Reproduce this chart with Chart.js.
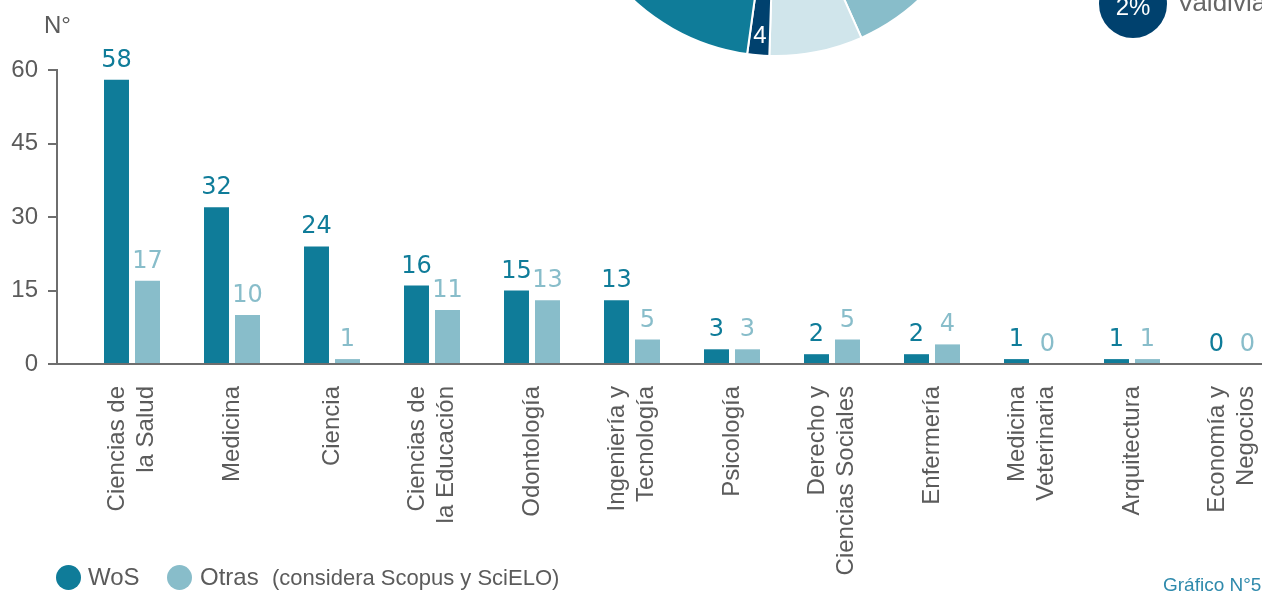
<!DOCTYPE html>
<html><head><meta charset="utf-8">
<script src="https://cdn.jsdelivr.net/npm/chart.js@4.4.1/dist/chart.umd.min.js"></script>
<style>
html,body{margin:0;padding:0;background:#fff;width:1262px;height:591px;overflow:hidden;position:relative;font-family:'Liberation Sans',Arial,sans-serif;}
#bar{position:absolute;left:0;top:0;}
#pie{position:absolute;left:556px;top:-374px;}
.t{position:absolute;white-space:nowrap;color:#5b5b5b;}
.dot{position:absolute;border-radius:50%;}
</style></head><body>
<canvas id="bar" width="1262" height="591"></canvas>
<canvas id="pie" width="440" height="440"></canvas>
<div class="t" style="left:44px;top:11px;font-size:24px;">N°</div>
<div class="dot" style="left:56px;top:565px;width:25px;height:25px;background:#0f7c99"></div>
<div class="t" style="left:88px;top:563px;font-size:24px;">WoS</div>
<div class="dot" style="left:167px;top:565px;width:25px;height:25px;background:#88bdca"></div>
<div class="t" style="left:200px;top:563px;font-size:24px;">Otras</div>
<div class="t" style="left:272px;top:565px;font-size:22px;">(considera Scopus y SciELO)</div>
<div class="t" style="left:1163px;top:574px;font-size:19px;color:#2f8aac;">Gráfico N°5</div>
<div class="dot" style="left:1099px;top:-30px;width:68px;height:68px;background:#00416e"></div>
<div class="t" style="left:1099px;top:-7px;width:68px;text-align:center;font-size:24px;color:#fff;">2%</div>
<div class="t" style="left:1177px;top:-13px;font-size:26px;color:#666;">Valdivia</div>
<script>
const categories = [
  ["Ciencias de","la Salud"], "Medicina", "Ciencia", ["Ciencias de","la Educación"],
  "Odontología", ["Ingeniería y","Tecnología"], "Psicología", ["Derecho y","Ciencias Sociales"],
  "Enfermería", ["Medicina","Veterinaria"], "Arquitectura", ["Economía y","Negocios"]
];
const wosValues   = [58, 32, 24, 16, 15, 13, 3, 2, 2, 1, 1, 0];
const otrasValues = [17, 10, 1, 11, 13, 5, 3, 5, 4, 0, 1, 0];
const yTicks = [0, 15, 30, 45, 60];
const seriesNames = ["WoS", "Otras"];
const pieLabels = ["Sede (derecha)", "Sede (clara)", "Valdivia", "Sede (principal)"];
const pieValues = [58, 17, 4, 158];

const FONT = "'Liberation Sans', Arial, sans-serif";
Chart.defaults.font.family = FONT;

const valueLabels = {
  id: 'valueLabels',
  afterDatasetsDraw(chart) {
    const ctx = chart.ctx;
    chart.data.datasets.forEach((ds, di) => {
      const meta = chart.getDatasetMeta(di);
      meta.data.forEach((bar, i) => {
        ctx.save();
        ctx.font = "24px 'DejaVu Sans', sans-serif";
        ctx.fillStyle = ds.labelColor;
        ctx.textAlign = 'center';
        ctx.textBaseline = 'alphabetic';
        ctx.fillText(String(ds.data[i].y), bar.x, bar.y - 13);
        ctx.restore();
      });
    });
  }
};

const catLabels = {
  id: 'catLabels',
  afterDraw(chart) {
    const xs = chart.scales.x, ctx = chart.ctx;
    ctx.save();
    ctx.font = "24px " + FONT;
    ctx.fillStyle = '#5b5b5b';
    ctx.textAlign = 'right';
    ctx.textBaseline = 'middle';
    categories.forEach((c, i) => {
      const lines = Array.isArray(c) ? c : [c];
      const cx = xs.getPixelForValue(i);
      ctx.save();
      ctx.translate(cx, 386);
      ctx.rotate(-Math.PI / 2);
      lines.forEach((ln, k) => ctx.fillText(ln, 0, (k - (lines.length - 1) / 2) * 29));
      ctx.restore();
    });
    ctx.restore();
  }
};

new Chart(document.getElementById('bar'), {
  type: 'bar',
  data: {
    datasets: [
      { label: seriesNames[0], data: wosValues.map((v, i) => ({x: i, y: v})), backgroundColor: '#0f7c99', labelColor: '#0f7c99' },
      { label: seriesNames[1], data: otrasValues.map((v, i) => ({x: i, y: v})), backgroundColor: '#88bdca', labelColor: '#88bdca' }
    ]
  },
  options: {
    responsive: false, animation: false,
    categoryPercentage: 0.62, barPercentage: 0.806,
    layout: { padding: { left: 0, right: 0, top: 70, bottom: 227 } },
    plugins: { legend: { display: false }, tooltip: { enabled: false } },
    scales: {
      x: {
        type: 'linear', min: -0.75, max: 11.3, offset: false,
        afterBuildTicks: s => { s.ticks = categories.map((c, i) => ({value: i})); },
        ticks: { display: false },
        grid: { display: false, offset: false },
        border: { display: true, color: '#6e6e6e', width: 2 },
        afterFit: s => { s.height = 0; }
      },
      y: {
        min: 0, max: 60,
        afterBuildTicks: s => { s.ticks = yTicks.map(v => ({value: v})); },
        ticks: { font: { size: 24, family: FONT }, color: '#5b5b5b', padding: 10 },
        grid: { drawOnChartArea: false, drawTicks: true, tickLength: 9, color: '#6e6e6e', lineWidth: 2 },
        border: { display: true, color: '#6e6e6e', width: 2 },
        afterFit: s => { s.width = 57; }
      }
    }
  },
  plugins: [valueLabels, catLabels]
});

const pieLabel = {
  id: 'pieLabel',
  afterDatasetsDraw(chart) {
    const ctx = chart.ctx;
    const meta = chart.getDatasetMeta(0);
    const idx = pieLabels.indexOf('Valdivia');
    const arc = meta.data[idx];
    const mid = (arc.startAngle + arc.endAngle) / 2;
    const r = arc.outerRadius * 0.91;
    ctx.save();
    ctx.font = "24px " + FONT;
    ctx.fillStyle = '#fff';
    ctx.textAlign = 'center';
    ctx.textBaseline = 'middle';
    ctx.fillText(String(pieValues[idx]), arc.x + r * Math.cos(mid), arc.y + r * Math.sin(mid));
    ctx.restore();
  }
};

new Chart(document.getElementById('pie'), {
  type: 'pie',
  data: {
    labels: pieLabels,
    datasets: [{ data: pieValues, backgroundColor: ['#88bdca', '#d0e5eb', '#00416e', '#0f7c99'], borderColor: '#ffffff', borderWidth: 2 }]
  },
  options: {
    responsive: false, animation: false, rotation: 67.9,
    layout: { padding: 9 },
    plugins: { legend: { display: false }, tooltip: { enabled: false } }
  },
  plugins: [pieLabel]
});
</script>
</body></html>
